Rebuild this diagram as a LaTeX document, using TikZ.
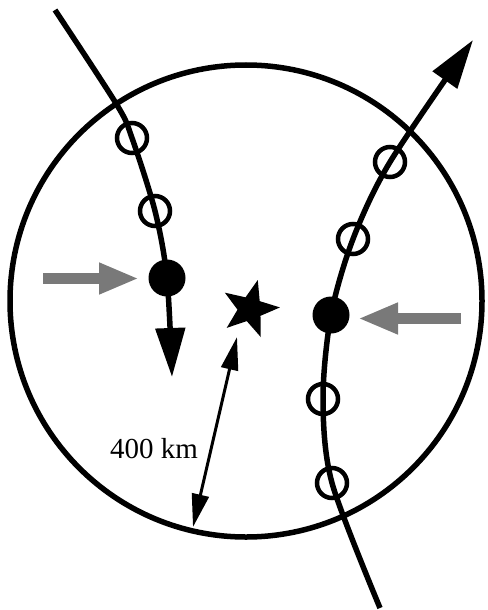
\documentclass[tikz,border=0pt]{standalone}
\usepackage{fontspec}
\setmainfont{Liberation Serif}
\usetikzlibrary{arrows.meta,shapes.geometric}
\begin{document}
\begin{tikzpicture}[x=1pt,y=-1pt,
  track/.style={line width=5.5pt},
  openmark/.style={circle,draw,line width=4.5pt,minimum size=30pt,inner sep=0pt},
  fullmark/.style={circle,fill=black,minimum size=37pt,inner sep=0pt},
  trackhead/.style={-{Triangle[length=49pt,width=29pt]}},
  grayarrow/.style={draw=gray!95!black,line width=11pt,-{Triangle[length=40pt,width=29pt]}},
  measure/.style={line width=3pt,{Triangle[length=33pt,width=17pt]}-{Triangle[length=33pt,width=17pt]}}]
\useasboundingbox (0,0) rectangle (487,610);
% region circle
\coordinate (C) at (246,301);
\draw[line width=5.5pt] (C) circle[radius=236];
% left track
\coordinate (L0) at (55,10);
\coordinate (L1) at (117,105);
\node[openmark] (lo1) at (132,138) {};
\node[openmark] (lo2) at (155,211) {};
\node[fullmark] (lf) at (167,278) {};
\coordinate (Lend) at (172,377);
\draw[track,trackhead] plot[smooth] coordinates {(L0) (L1) (lo1.center) (lo2.center) (lf.center) (Lend)};
% right track
\coordinate (R0) at (380,608);
\node[openmark] (ro1) at (332,483) {};
\node[openmark] (ro2) at (323,399) {};
\node[fullmark] (rf) at (331,315) {};
\node[openmark] (ro3) at (353,239) {};
\node[openmark] (ro4) at (390,162) {};
\coordinate (Rend) at (473,40);
\draw[track,trackhead] plot[smooth] coordinates {(R0) (ro1.center) (ro2.center) (rf.center) (ro3.center) (ro4.center) (Rend)};
% gray arrows
\coordinate (GL0) at (43,278.5);
\coordinate (GL1) at (139,278.5);
\draw[grayarrow] (GL0) -- (GL1);
\coordinate (GR0) at (461,318.5);
\coordinate (GR1) at (358,318.5);
\draw[grayarrow] (GR0) -- (GR1);
% star
\node[star,star points=5,star point ratio=2.4,fill=black,minimum size=60pt,inner sep=0pt,shape border rotate=-15] (S) at (250,309) {};
% measure
\coordinate (M0) at (237,337);
\coordinate (M1) at (193,527);
\draw[measure] (M0) -- (M1);
\node[font=\fontsize{29}{32}\selectfont,anchor=base,inner sep=0pt] (lab) at (154,458) {400 km};
\end{tikzpicture}
\end{document}
